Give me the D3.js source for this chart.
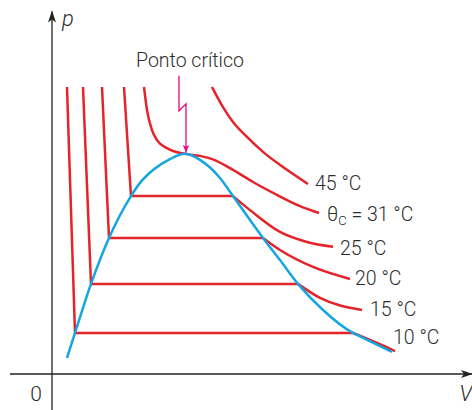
<!DOCTYPE html>
<html>
<head>
<meta charset="utf-8">
<script src="https://cdn.jsdelivr.net/npm/d3@7"></script>
<style>
  html, body { margin: 0; padding: 0; background: #fff; }
  svg { display: block; }
  text { font-family: Roboto, "Noto Sans", sans-serif; font-weight: 300; fill: #2e2e2e; }
</style>
</head>
<body>
<svg id="chart" width="472" height="410"></svg>
<script>
// Isotherms of CO2 in the p–V plane (arbitrary units of volume and pressure)

// Sub-critical isotherms: liquid branch + plateau (straight), then vapour branch (curved)
const subLabels = ["10 °C", "15 °C", "20 °C", "25 °C"];
const liquid10 = [[0.375, 10], [0.575, 1.43], [7.525, 1.43]];
const vapor10  = [[7.525, 1.43], [8.125, 1.08], [8.575, 0.80]];
const liquid15 = [[0.775, 10], [0.975, 3.14], [6.15, 3.14]];
const vapor15  = [[6.15, 3.14], [6.7, 2.65], [7.75, 2.23]];
const liquid20 = [[1.25, 10], [1.425, 4.74], [5.275, 4.74]];
const vapor20  = [[5.275, 4.74], [5.7, 4.32], [6.525, 3.73], [7.45, 3.31]];
const liquid25 = [[1.8, 10], [1.975, 6.20], [4.525, 6.20]];
const vapor25  = [[4.525, 6.20], [4.95, 5.71], [5.7, 4.95], [6.375, 4.60], [7.025, 4.43]];

// Critical isotherm (31 °C) and a super-critical one (45 °C)
const iso31 = [[2.3, 10], [2.375, 9.2], [2.5, 8.5], [2.625, 8.15], [2.875, 7.87], [3.325, 7.67],
               [3.7, 7.6], [4.025, 7.48], [4.525, 7.11], [5.025, 6.69], [5.625, 6.24], [6.2, 5.85], [6.675, 5.61]];
const iso45 = [[4.0, 10], [4.275, 9.3], [4.525, 8.78], [4.875, 8.26], [5.275, 7.74], [5.775, 7.21], [6.4, 6.62]];

// Saturation (coexistence) curve
const dome = [[0.375, 0.56], [0.575, 1.43], [0.975, 3.14], [1.425, 4.74], [1.975, 6.20], [2.2, 6.66],
              [2.525, 7.11], [2.95, 7.49], [3.325, 7.67], [3.7, 7.46], [4.2, 6.83], [4.525, 6.20],
              [5.275, 4.74], [5.7, 3.97], [6.15, 3.14], [6.775, 2.23], [7.525, 1.43], [7.625, 1.36], [8.5, 0.77]];

const criticalPoint = [3.325, 7.67];

const red = "#e4232b", blue = "#14a6e1", magenta = "#e5097f", ink = "#222";

const svg = d3.select("#chart");
const x = d3.scaleLinear().domain([0, 10]).range([52, 452]);
const y = d3.scaleLinear().domain([0, 10]).range([374, 87]);

const straight = d3.line().x(d => x(d[0])).y(d => y(d[1]));
const smooth = d3.line().x(d => x(d[0])).y(d => y(d[1])).curve(d3.curveMonotoneX);

// Arrow markers
const defs = svg.append("defs");
defs.append("marker").attr("id", "axisHead")
  .attr("viewBox", "0 0 12 10").attr("refX", 11).attr("refY", 5)
  .attr("markerWidth", 12).attr("markerHeight", 10).attr("markerUnits", "userSpaceOnUse")
  .attr("orient", "auto")
  .append("path").attr("d", "M0,1 L12,5 L0,9 L3,5 Z").attr("fill", ink);
defs.append("marker").attr("id", "pinkHead")
  .attr("viewBox", "0 0 8 8").attr("refX", 8).attr("refY", 4)
  .attr("markerWidth", 8).attr("markerHeight", 8).attr("markerUnits", "userSpaceOnUse")
  .attr("orient", "auto")
  .append("path").attr("d", "M0,0.8 L8,4 L0,7.2 L2,4 Z").attr("fill", magenta);

// Axes
svg.append("line")
  .attr("x1", x(-1.05)).attr("y1", y(0)).attr("x2", x(10.5)).attr("y2", y(0))
  .attr("stroke", ink).attr("stroke-width", 1.3).attr("marker-end", "url(#axisHead)");
svg.append("line")
  .attr("x1", x(0)).attr("y1", y(-1.3)).attr("x2", x(0)).attr("y2", y(12.63))
  .attr("stroke", ink).attr("stroke-width", 1.3).attr("marker-end", "url(#axisHead)");

svg.append("text").attr("x", x(0) - 16).attr("y", y(0) + 27)
  .attr("text-anchor", "middle").style("font-size", "21px").text("0");
svg.append("text").attr("x", x(10.18)).attr("y", y(0) + 27)
  .style("font-size", "22px").style("font-style", "italic").text("V");
svg.append("text").attr("x", x(0) + 10).attr("y", 26)
  .style("font-size", "22px").style("font-style", "italic").text("p");

// Isotherms
const isoGroup = svg.append("g").attr("fill", "none").attr("stroke", red)
  .attr("stroke-width", 2.5).attr("stroke-linejoin", "round");
[[liquid10, vapor10], [liquid15, vapor15], [liquid20, vapor20], [liquid25, vapor25]].forEach(([liq, vap]) => {
  isoGroup.append("path").attr("d", straight(liq));
  isoGroup.append("path").attr("d", smooth(vap));
});
isoGroup.append("path").attr("d", smooth(iso31));
isoGroup.append("path").attr("d", smooth(iso45));

// Saturation curve
svg.append("path").attr("d", smooth(dome))
  .attr("fill", "none").attr("stroke", blue).attr("stroke-width", 2.5);

// Isotherm labels, placed just past each curve's end
const labelFont = "19.5px";
const subEnds = [vapor10, vapor15, vapor20, vapor25].map(v => v[v.length - 1]);
subEnds.forEach((end, i) => {
  svg.append("text")
    .attr("x", x(end[0]) + [-2, 8, 5, 7][i])
    .attr("y", y(end[1]) + [-7, 6, 6, 8][i])
    .style("font-size", labelFont).text(subLabels[i]);
});
const end31 = iso31[iso31.length - 1];
const t31 = svg.append("text").attr("x", x(end31[0]) + 8).attr("y", y(end31[1]) + 8)
  .style("font-size", labelFont);
t31.append("tspan").text("θ");
t31.append("tspan").attr("dy", 4).style("font-size", "13px").text("C");
t31.append("tspan").attr("dy", -4).text(" = 31 °C");
const end45 = iso45[iso45.length - 1];
svg.append("text").attr("x", x(end45[0]) + 7).attr("y", y(end45[1]) + 6)
  .style("font-size", labelFont).text("45 °C");

// Critical point annotation
const cx = x(criticalPoint[0]), cy = y(criticalPoint[1]);
svg.append("text").attr("x", cx + 5).attr("y", cy - 87)
  .attr("text-anchor", "middle").style("font-size", labelFont).text("Ponto crítico");
svg.append("path")
  .attr("d", `M${cx - 6},${cy - 78} L${cx - 6},${cy - 43} L${cx + 1},${cy - 50} L${cx + 1},${cy - 1}`)
  .attr("fill", "none").attr("stroke", magenta).attr("stroke-width", 1.3)
  .attr("marker-end", "url(#pinkHead)");
</script>
</body>
</html>
